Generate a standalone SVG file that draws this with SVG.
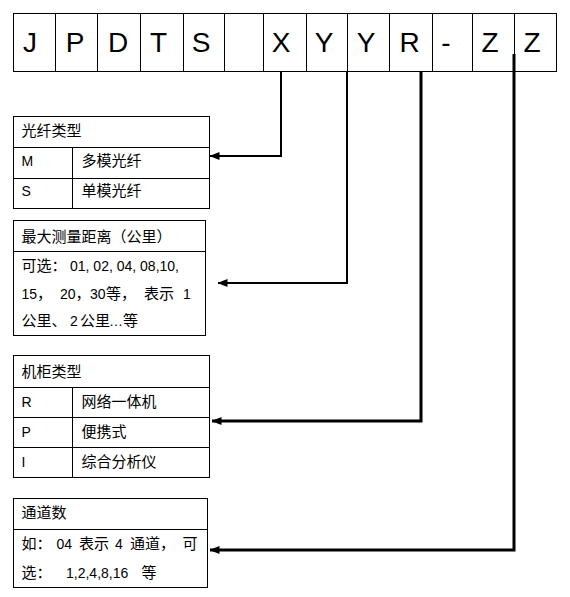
<svg xmlns="http://www.w3.org/2000/svg" width="570" height="597" viewBox="0 0 570 597">
<style>
.box{fill:#fff;stroke:#000;stroke-width:1}
.ln{stroke:#000;stroke-width:1;fill:none}
.code{font-family:"Liberation Sans",Arial,sans-serif;font-size:28px;fill:#000;text-anchor:middle}
.t{font-family:"Liberation Sans","Noto Sans CJK SC",sans-serif;font-size:15px;fill:#000}
.n{font-family:"Liberation Sans",Arial,sans-serif;font-size:14px}
.c2{stroke:#000;stroke-width:2;fill:none}
.c3{stroke:#000;stroke-width:3;fill:none}
</style>
<defs>
<marker id="arr" markerUnits="userSpaceOnUse" markerWidth="10" markerHeight="8" refX="9.5" refY="4" orient="auto">
<path d="M0,0 L10,4 L0,8 Z" fill="#000"/>
</marker>
</defs>
<rect width="570" height="597" fill="#fff"/>

<g id="code">
<g id="c-J"><rect class="box" x="13.5" y="13.5" width="42" height="58"/><text class="code" x="30" y="52">J</text></g>
<g id="c-P"><rect class="box" x="55.5" y="13.5" width="42" height="58"/><text class="code" x="75" y="52">P</text></g>
<g id="c-D"><rect class="box" x="97.5" y="13.5" width="43" height="58"/><text class="code" x="118" y="52">D</text></g>
<g id="c-T"><rect class="box" x="140.5" y="13.5" width="43" height="58"/><text class="code" x="158.5" y="52">T</text></g>
<g id="c-S"><rect class="box" x="183.5" y="13.5" width="41" height="58"/><text class="code" x="201" y="52">S</text></g>
<g id="c-blank"><rect class="box" x="224.5" y="13.5" width="39" height="58"/></g>
<g id="c-X"><rect class="box" x="263.5" y="13.5" width="43" height="58"/><text class="code" x="281" y="52">X</text></g>
<g id="c-Y1"><rect class="box" x="306.5" y="13.5" width="41" height="58"/><text class="code" x="324" y="52">Y</text></g>
<g id="c-Y2"><rect class="box" x="347.5" y="13.5" width="42" height="58"/><text class="code" x="366" y="52">Y</text></g>
<g id="c-R"><rect class="box" x="389.5" y="13.5" width="43" height="58"/><text class="code" x="409.5" y="52">R</text></g>
<g id="c-dash"><rect class="box" x="432.5" y="13.5" width="40" height="58"/><text class="code" x="446" y="52">-</text></g>
<g id="c-Z1"><rect class="box" x="472.5" y="13.5" width="42" height="58"/><text class="code" x="490" y="52">Z</text></g>
<g id="c-Z2"><rect class="box" x="514.5" y="13.5" width="42" height="58"/><text class="code" x="532" y="52">Z</text></g>
</g>

<g id="fiber-type">
<rect class="box" x="13.5" y="116.5" width="196" height="92"/>
<path class="ln" d="M13.5,147.5 H209.5 M13.5,178.5 H209.5 M72.5,147.5 V208.5"/>
<text class="t" x="21.5" y="136">光纤类型</text>
<text class="t n" x="21.5" y="166">M</text>
<text class="t" x="81.5" y="166">多模光纤</text>
<text class="t n" x="21.5" y="196">S</text>
<text class="t" x="81.5" y="196">单模光纤</text>
</g>

<g id="max-distance">
<rect class="box" x="13.5" y="220.5" width="192" height="115"/>
<path class="ln" d="M13.5,251.5 H205.5"/>
<text class="t" x="21.5" y="242">最大测量距离（公里）</text>
<text class="t" x="21.5" y="271">可选：<tspan class="n" x="70">01, 02, 04, 08,10,</tspan></text>
<text class="t" y="298.5"><tspan class="n" x="21.5">15</tspan><tspan x="37">，</tspan><tspan class="n" x="60">20</tspan><tspan x="75.5">，</tspan><tspan class="n" x="90">30</tspan><tspan x="106">等，</tspan><tspan x="144">表示</tspan><tspan class="n" x="183">1</tspan></text>
<text class="t" y="326"><tspan x="21.5">公里、</tspan><tspan class="n" x="70">2</tspan><tspan x="80">公里</tspan><tspan class="n" x="109">…</tspan><tspan x="123">等</tspan></text>
</g>

<g id="cabinet-type">
<rect class="box" x="13.5" y="355.5" width="196" height="122"/>
<path class="ln" d="M13.5,387.5 H209.5 M13.5,417.5 H209.5 M13.5,447.5 H209.5 M72.5,387.5 V477.5"/>
<text class="t" x="21.5" y="377">机柜类型</text>
<text class="t n" x="21.5" y="407">R</text>
<text class="t" x="81.5" y="407">网络一体机</text>
<text class="t n" x="21.5" y="437">P</text>
<text class="t" x="81.5" y="437">便携式</text>
<text class="t n" x="21.5" y="467">I</text>
<text class="t" x="81.5" y="467">综合分析仪</text>
</g>

<g id="channels">
<rect class="box" x="13.5" y="498.5" width="194" height="89"/>
<path class="ln" d="M13.5,529.5 H207.5"/>
<text class="t" x="21.5" y="518">通道数</text>
<text class="t" y="549"><tspan x="21.5">如：</tspan><tspan class="n" x="56.5">04</tspan><tspan x="79">表示</tspan><tspan class="n" x="115">4</tspan><tspan x="130">通道，</tspan><tspan x="182.5">可</tspan></text>
<text class="t" y="578"><tspan x="21.5">选：</tspan><tspan class="n" x="66">1,2,4,8,16</tspan><tspan x="141.5">等</tspan></text>
</g>

<g id="connectors">
<path class="c2" d="M281,71 V156 H210" marker-end="url(#arr)"/>
<path class="c2" d="M347,71 V283 H218" marker-end="url(#arr)"/>
<path class="c3" d="M421,71 V421 H212" marker-end="url(#arr)"/>
<path class="c3" d="M514,54 V550 H210" marker-end="url(#arr)"/>
</g>
</svg>
